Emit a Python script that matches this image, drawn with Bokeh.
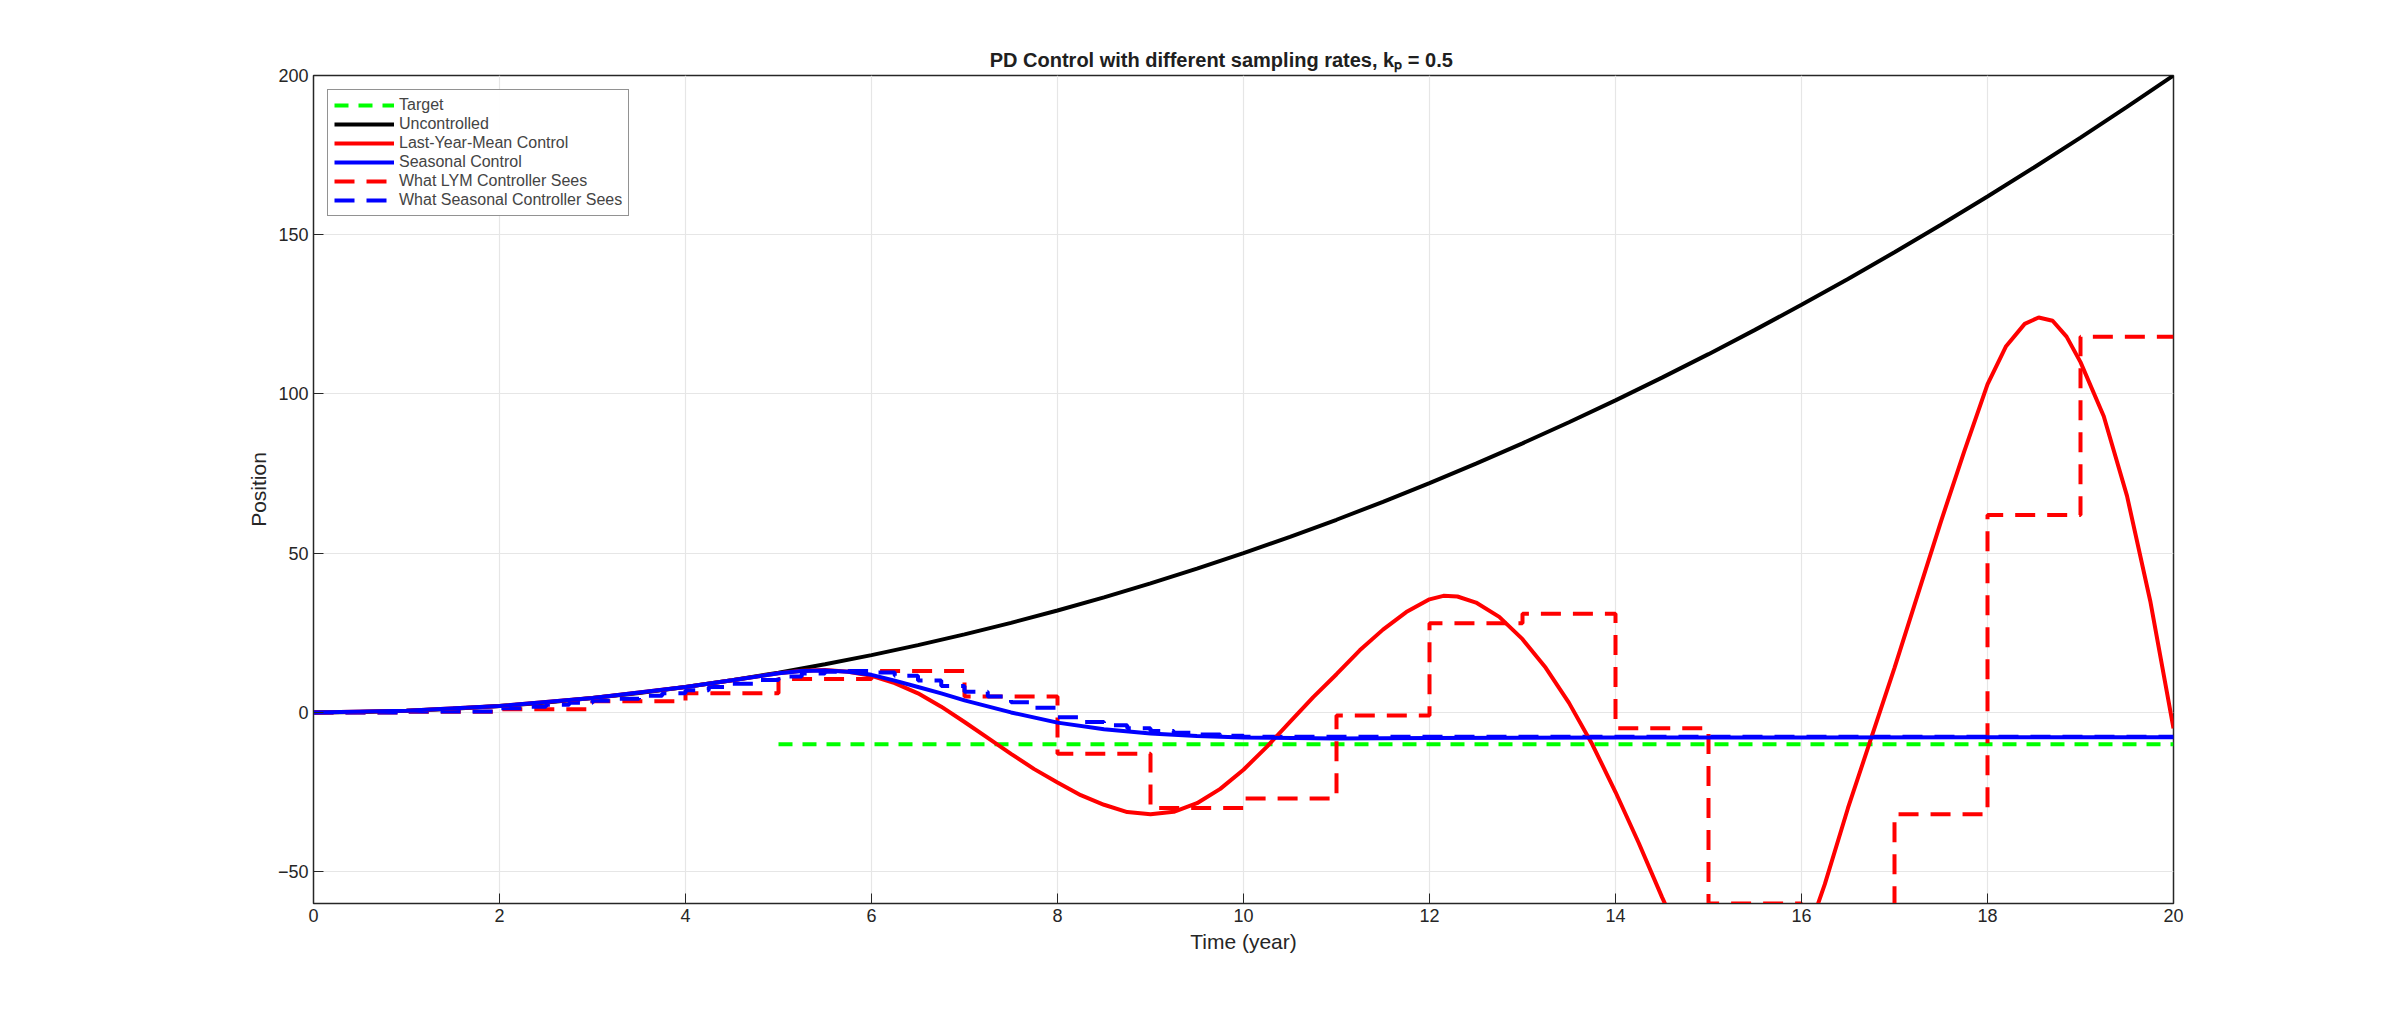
from bokeh.plotting import figure
from bokeh.embed import file_html
from bokeh.resources import INLINE
from bokeh.models import Range1d, FixedTicker, Legend, LegendItem

t_unc = [0,0.5,1,1.5,2,2.5,3,3.5,4,4.5,5,5.5,6,6.5,7,7.5,8,8.5,9,9.5,10,10.5,11,11.5,12,12.5,13,13.5,14,14.5,15,15.5,16,16.5,17,17.5,18,18.5,19,19.5,20]
y_unc = [0,0.125,0.5,1.125,2,3.125,4.5,6.125,8,10.125,12.5,15.125,18,21.125,24.5,28.125,32,36.125,40.5,45.125,50,55.125,60.5,66.125,72,78.125,84.5,91.125,98,105.125,112.5,120.125,128,136.125,144.5,153.125,162,171.125,180.5,190.125,200]

t_lym = [0,1,2,3,4,4.5,5,5.25,5.5,5.75,6,6.25,6.5,6.75,7,7.25,7.5,7.75,8,8.25,8.5,8.75,9,9.25,9.5,9.75,10,10.25,10.5,10.75,11,11.25,11.5,11.75,12,12.15,12.3,12.5,12.75,13,13.25,13.5,13.75,14,14.25,14.5,14.75,15,15.3,15.6,15.85,16,16.25,16.5,16.75,17,17.25,17.5,17.75,18,18.2,18.4,18.55,18.7,18.85,19,19.25,19.5,19.75,20]
y_lym = [0,0.5,2,4.5,8,10.1,12.3,13.1,13.3,12.8,11.5,9.2,6,1.8,-3,-8,-13,-17.8,-22,-26,-29,-31.3,-32,-31.2,-28.5,-24,-18,-10.8,-3,4.8,12,19.5,26,31.5,35.5,36.6,36.4,34.5,30,23,14,3,-10,-25,-41,-58,-74,-86,-95,-93,-84,-75,-54,-30,-8,14,37,60,82,103,115,122,124,123,118,110,93,68,35,-5]

t_sea = [0,1,2,3,4,4.5,5,5.25,5.5,5.75,6,6.25,6.5,6.75,7,7.5,8,8.5,9,9.5,10,11,12,14,16,18,20]
y_sea = [0,0.5,2,4.5,8,10.1,12.3,13,13.2,12.8,11.8,10,8,6,3.8,0,-3.2,-5.3,-6.6,-7.4,-7.9,-8.2,-8.0,-7.9,-7.9,-7.8,-7.8]

t_lym_sees = [0,1,2,3,4,5,6,7,8,9,10,11,12,13,14,15,16,17,18,19,20]
y_lym_sees = [0,0.2,1,3.5,6,10.5,13,5,-13,-30,-27,-1,28,31,-5,-60,-80,-32,62,118,118]

t_sea_sees = [0,1,2,2.25,2.5,2.75,3,3.25,3.5,3.75,4,4.25,4.5,4.75,5,5.25,5.5,5.75,6,6.25,6.5,6.75,7,7.25,7.5,7.75,8,8.25,8.5,8.75,9,9.25,9.5,9.75,10,20]
y_sea_sees = [0,0.3,1.3,1.8,2.4,3.0,3.7,4.3,5.2,6.0,7.0,8.0,9.0,10.2,11.3,12.2,12.8,13.0,12.5,11.5,10,8.3,6.5,5,3.2,1.5,-1.5,-3,-4,-5,-5.8,-6.4,-6.9,-7.3,-7.6,-7.6]

t_target = [5,20]
y_target = [-10,-10]

FONT = "Liberation Sans"
p = figure(width=2384, height=1000, output_backend="svg", toolbar_location=None,
           x_range=Range1d(0, 20), y_range=Range1d(-60, 200),
           min_border_left=313, min_border_right=211, min_border_top=75, min_border_bottom=97,
           title="PD  Control  with  different  sampling  rates,  kₚ  =  0.5")
p.title.align = "center"
p.title.text_font = FONT
p.title.text_font_size = "20px"
p.title.text_font_style = "bold"
p.title.text_color = "#202020"
p.outline_line_color = "#262626"
p.outline_line_width = 1.5

for ax in (p.xaxis[0], p.yaxis[0]):
    ax.major_label_text_font = FONT
    ax.major_label_text_font_size = "18px"
    ax.major_label_text_color = "#262626"
    ax.axis_label_text_font = FONT
    ax.axis_label_text_font_size = "21px"
    ax.axis_label_text_font_style = "normal"
    ax.axis_label_text_color = "#262626"
    ax.axis_line_color = "#262626"
    ax.major_tick_line_color = "#262626"
    ax.major_tick_in = 10
    ax.major_tick_out = 0
    ax.minor_tick_line_color = None
p.xaxis.ticker = FixedTicker(ticks=list(range(0, 21, 2)))
p.yaxis.ticker = FixedTicker(ticks=[-50, 0, 50, 100, 150, 200])
p.xaxis.axis_label = "Time (year)"
p.yaxis.axis_label = "Position"
p.grid.grid_line_color = "#e6e6e6"
p.grid.grid_line_width = 1.2

r1 = p.line(t_target, y_target, color="#00ff00", line_width=4, line_dash="14 10")
r2 = p.line(t_unc, y_unc, color="black", line_width=4)
r3 = p.line(t_lym, y_lym, color="#ff0000", line_width=4)
r4 = p.line(t_sea, y_sea, color="#0000ff", line_width=4)
r5 = p.step(t_lym_sees, y_lym_sees, mode="after", color="#ff0000", line_width=4, line_dash="20 12")
r6 = p.step(t_sea_sees, y_sea_sees, mode="after", color="#0000ff", line_width=4, line_dash="20 12")
p.renderers = [r1, r2, r5, r6, r3, r4]

leg = Legend(items=[
    LegendItem(label="Target", renderers=[r1]),
    LegendItem(label="Uncontrolled", renderers=[r2]),
    LegendItem(label="Last-Year-Mean Control", renderers=[r3]),
    LegendItem(label="Seasonal Control", renderers=[r4]),
    LegendItem(label="What LYM Controller Sees", renderers=[r5]),
    LegendItem(label="What Seasonal Controller Sees", renderers=[r6]),
], location="top_left")
leg.label_text_font = FONT
leg.label_text_font_size = "16px"
leg.label_height = 14
leg.glyph_height = 14
leg.glyph_width = 60
leg.spacing = 1
leg.padding = 6
leg.margin = 14
leg.border_line_color = "#262626"
leg.border_line_width = 1
p.add_layout(leg)

open("out.html", "w").write(file_html(p, INLINE))
